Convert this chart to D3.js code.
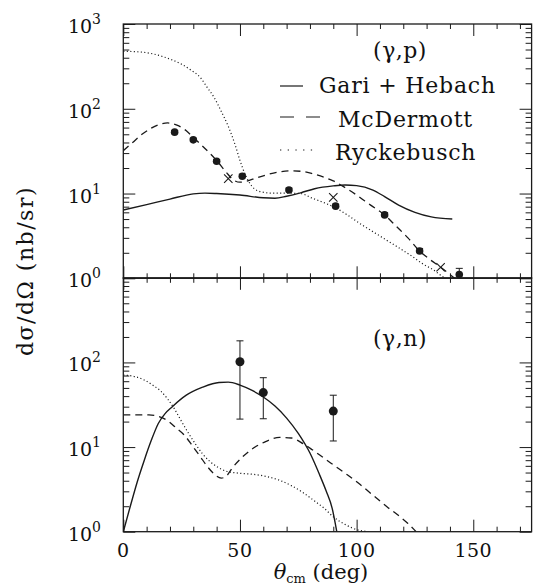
<!DOCTYPE html>
<html>
<head>
<meta charset="utf-8">
<script src="https://cdn.jsdelivr.net/npm/d3@7"></script>
<style>
  body { margin: 0; background: #fff; }
  svg { display: block; }
  text { font-family: "DejaVu Serif", "Liberation Serif", serif; fill: #111; }
</style>
</head>
<body>
<script>
// (gamma,p) measured points
var pAngle = [22, 30, 40, 51, 71, 91, 112, 127, 144];
var pValue = [53, 43, 24, 16, 11, 7.1, 5.6, 2.1, 1.11];
var pError = [2.5, 2, 1.2, 0.9, 0.6, 0.4, 0.35, 0.15, 0.2];
var pCrossAngle = [45, 90, 136];
var pCrossValue = [15, 9.0, 1.35];

// (gamma,n) measured points
var nAngle = [50, 60, 90];
var nValue = [102, 44, 26.6];
var nErrHi = [180, 66, 41];
var nErrLo = [21.4, 21.6, 11.8];

// model curves, [angle, value]
var gariP = [[0,6.4],[10,7.4],[20,8.6],[30,9.9],[35,10.1],[40,10.0],[50,9.6],[60,8.9],[65,8.8],[70,9.3],[76,10.2],
  [82,11.4],[90,12.3],[95,12.6],[100,12.4],[107,11.0],[112,9.2],[118,7.3],[125,6.0],[132,5.3],[141,5.0]];
var mcdP = [[0,32],[4,40],[8,50],[12,59],[16,66],[19,68],[23,64],[27,55],[30,46],[35,34],[40,24.5],[44,18],
  [47,14.6],[50,13.6],[53,14],[57,15.3],[62,16.8],[67,18],[72,18.5],[77,18.2],[81,17.2],[86,15.6],[90,14.1],
  [95,11.8],[100,9.6],[106,7.3],[112,5.6],[117,4.1],[122,3.0],[127,2.1],[131,1.7],[136,1.35],[142,1.0]];
var ryckP = [[0,476],[5,472],[9,463],[13,442],[17,412],[21,376],[25,335],[29,285],[33,234],[36,178],[39,135],
  [42,93],[45,62],[48,37],[50,24.6],[52,17.4],[54,13.5],[56,11.5],[59,10.5],[64,10.1],[70,10.1],[76,10],
  [81,8.8],[86,7.8],[90,7.0],[96,5.6],[101,4.5],[107,3.55],[113,2.8],[118,2.3],[124,1.8],[128,1.5],[133,1.25],
  [137,1.04],[138,1.0]];

var gariN = [[0,1],[3,2.0],[6,3.9],[9,7.0],[12,12],[15,19],[18,25],[21,30],[27,41],[34,51],[41,58],[45,58.5],
  [50,54],[55,47],[60,39],[65,30.5],[70,22],[75,14.5],[80,8.5],[84,4.8],[87,3.0],[89.5,1.9],[91.5,1.0]];
var mcdN = [[0,24],[5,24],[11,24],[15,23],[19,20.5],[23,16.5],[26,14],[30,10],[33,7.7],[36,5.9],[39,4.8],
  [42,4.3],[44,4.5],[47,5.8],[51,7.6],[55,9.4],[61,11.6],[67,13],[72,12.8],[77,11],[81,9.3],[86,7.4],[91,5.9],
  [96,4.7],[101,3.7],[107,2.7],[113,1.97],[118,1.55],[122,1.25],[125.5,1.0]];
var ryckN = [[0,71],[5,68],[9,62],[13,53],[16,46],[19,37],[22,28],[25,20],[28,14.5],[31,10.8],[34,8.3],
  [37,6.8],[40,5.9],[44,5.2],[50,4.9],[56,4.75],[62,4.45],[67,4.05],[72,3.5],[77,2.9],[82,2.3],[86,1.9],
  [90,1.5],[95,1.22],[100,1.06],[105,1.0]];

var xTicks = [0, 50, 100, 150];
var yExpsTop = [0, 1, 2, 3];
var yExpsBot = [0, 1, 2];
var legendNames = ["Gari + Hebach", "McDermott", "Ryckebusch"];

var W = 534, H = 586;
var svg = d3.select("body").append("svg").attr("width", W).attr("height", H);

var x = d3.scaleLinear().domain([0, 175]).range([123.3, 531.6]);
var yTop = d3.scaleLog().domain([1, 1000]).range([278.3, 24]);
var yBot = d3.scaleLog().domain([1, 1000]).range([531.7, 277.8]);

var ink = "#1a1a1a";
var styles = {
  solid: { dash: null, w: 1.4 },
  dashed: { dash: "7,5", w: 1.3 },
  dotted: { dash: "1.1,2.4", w: 1.2 }
};

var majorX = d3.range(0, 176, 50);
var minorX = d3.range(0, 176, 10).filter(function(v) { return v % 50; });
var majorY = [1, 10, 100, 1000];
var minorY = [];
[1, 10, 100].forEach(function(d) { for (var k = 2; k <= 9; k++) minorY.push(d * k); });

function axisTicks(g, y, exps) {
  var y0 = y.range()[0], y1 = y.range()[1];
  var x0 = x.range()[0], x1 = x.range()[1];
  function put(axis, tr) {
    var a = g.append("g").attr("transform", tr).call(axis);
    a.select(".domain").remove();
    a.selectAll("text").remove();
    a.selectAll("line").attr("stroke", ink).attr("stroke-width", 1);
  }
  put(d3.axisBottom(x).tickValues(majorX).tickSize(-12).tickSizeOuter(0), "translate(0," + y0 + ")");
  put(d3.axisBottom(x).tickValues(minorX).tickSize(-5).tickSizeOuter(0), "translate(0," + y0 + ")");
  put(d3.axisTop(x).tickValues(majorX).tickSize(-12).tickSizeOuter(0), "translate(0," + y1 + ")");
  put(d3.axisTop(x).tickValues(minorX).tickSize(-5).tickSizeOuter(0), "translate(0," + y1 + ")");
  put(d3.axisLeft(y).tickValues(majorY).tickSize(-12).tickSizeOuter(0), "translate(" + x0 + ",0)");
  put(d3.axisLeft(y).tickValues(minorY).tickSize(-6).tickSizeOuter(0), "translate(" + x0 + ",0)");
  put(d3.axisRight(y).tickValues(majorY).tickSize(-12).tickSizeOuter(0), "translate(" + x1 + ",0)");
  put(d3.axisRight(y).tickValues(minorY).tickSize(-6).tickSizeOuter(0), "translate(" + x1 + ",0)");

  g.append("rect")
    .attr("x", x0).attr("y", y1).attr("width", x1 - x0).attr("height", y0 - y1)
    .attr("fill", "none").attr("stroke", ink).attr("stroke-width", 1.3);

  // y tick labels 10^n
  exps.forEach(function(e) {
    var ty = y(Math.pow(10, e));
    var t = g.append("text").attr("x", 101).attr("y", ty + 9)
      .attr("text-anchor", "end").style("font-size", "19px");
    t.append("tspan").text("10");
    t.append("tspan").attr("dy", -9).style("font-size", "14px").text(e);
  });
}

function panel(y, id, curves, label, labelY, exps) {
  var g = svg.append("g");
  svg.append("clipPath").attr("id", id).append("rect")
    .attr("x", x.range()[0]).attr("y", y.range()[1])
    .attr("width", x.range()[1] - x.range()[0]).attr("height", y.range()[0] - y.range()[1]);
  var plot = g.append("g").attr("clip-path", "url(#" + id + ")");
  var line = d3.line()
    .x(function(d) { return x(d[0]); })
    .y(function(d) { return y(d[1]); })
    .curve(d3.curveMonotoneX);
  curves.forEach(function(c) {
    plot.append("path").attr("d", line(c.data)).attr("fill", "none")
      .attr("stroke", ink).attr("stroke-width", styles[c.style].w)
      .attr("stroke-dasharray", styles[c.style].dash);
  });
  axisTicks(g, y, exps);
  g.append("text").attr("x", 400).attr("y", labelY).attr("text-anchor", "middle")
    .style("font-size", "22px").style("letter-spacing", "0.5px").text(label);
  return plot;
}

var plotTop = panel(yTop, "clipTop", [
  { data: gariP, style: "solid" }, { data: mcdP, style: "dashed" }, { data: ryckP, style: "dotted" }
], "(\u03b3,p)", 58, yExpsTop);

var plotBot = panel(yBot, "clipBot", [
  { data: gariN, style: "solid" }, { data: mcdN, style: "dashed" }, { data: ryckN, style: "dotted" }
], "(\u03b3,n)", 346, yExpsBot);

// top panel points
pAngle.forEach(function(a, i) {
  var cx = x(a), v = pValue[i], e = pError[i];
  plotTop.append("line").attr("x1", cx).attr("x2", cx)
    .attr("y1", yTop(v + e)).attr("y2", yTop(Math.max(v - e, 0.5)))
    .attr("stroke", ink).attr("stroke-width", 1);
  plotTop.append("line").attr("x1", cx - 3.5).attr("x2", cx + 3.5)
    .attr("y1", yTop(v + e)).attr("y2", yTop(v + e))
    .attr("stroke", ink).attr("stroke-width", 1);
  plotTop.append("circle").attr("cx", cx).attr("cy", yTop(v)).attr("r", 3.8).attr("fill", ink);
});
pCrossAngle.forEach(function(a, i) {
  var cx = x(a), cy = yTop(pCrossValue[i]), s = 4.2;
  plotTop.append("path")
    .attr("d", "M" + (cx - s) + "," + (cy - s) + "L" + (cx + s) + "," + (cy + s) +
               "M" + (cx - s) + "," + (cy + s) + "L" + (cx + s) + "," + (cy - s))
    .attr("stroke", ink).attr("stroke-width", 1.1);
});

// bottom panel points
nAngle.forEach(function(a, i) {
  var cx = x(a);
  plotBot.append("line").attr("x1", cx).attr("x2", cx)
    .attr("y1", yBot(nErrHi[i])).attr("y2", yBot(nErrLo[i]))
    .attr("stroke", ink).attr("stroke-width", 1);
  [nErrHi[i], nErrLo[i]].forEach(function(v) {
    plotBot.append("line").attr("x1", cx - 3.5).attr("x2", cx + 3.5)
      .attr("y1", yBot(v)).attr("y2", yBot(v)).attr("stroke", ink).attr("stroke-width", 1);
  });
  plotBot.append("circle").attr("cx", cx).attr("cy", yBot(nValue[i])).attr("r", 4.5).attr("fill", ink);
});

// legend
var legendLayout = [
  { tx: 319, ty: 93, ly: 86, x2: 303 },
  { tx: 338, ty: 127, ly: 117, x2: 321 },
  { tx: 335, ty: 160, ly: 150, x2: 313 }
];
var legendDash = [null, "14,12", "1.3,6.4"];
legendNames.forEach(function(name, i) {
  var L = legendLayout[i];
  svg.append("line").attr("x1", 280).attr("x2", L.x2).attr("y1", L.ly).attr("y2", L.ly)
    .attr("stroke", ink).attr("stroke-width", 1.2).attr("stroke-dasharray", legendDash[i]);
  svg.append("text").attr("x", L.tx).attr("y", L.ty)
    .style("font-size", "22px").style("letter-spacing", "0.8px").text(name);
});

// x tick labels
xTicks.forEach(function(v) {
  svg.append("text").attr("x", x(v)).attr("y", 557).attr("text-anchor", "middle")
    .style("font-size", "19px").style("letter-spacing", "0.5px").text(v);
});

// axis titles
var xl = svg.append("text").attr("x", 321).attr("y", 579).attr("text-anchor", "middle")
  .style("font-size", "21px");
xl.append("tspan").style("font-style", "italic").text("\u03b8");
xl.append("tspan").attr("dy", 4).style("font-size", "13px").text("cm");
xl.append("tspan").attr("dy", -4).text(" (deg)");

svg.append("text")
  .attr("transform", "translate(33,271) rotate(-90)")
  .attr("text-anchor", "middle")
  .style("font-size", "22px").style("letter-spacing", "1.5px")
  .text("d\u03c3/d\u03a9 (nb/sr)");
</script>
</body>
</html>
